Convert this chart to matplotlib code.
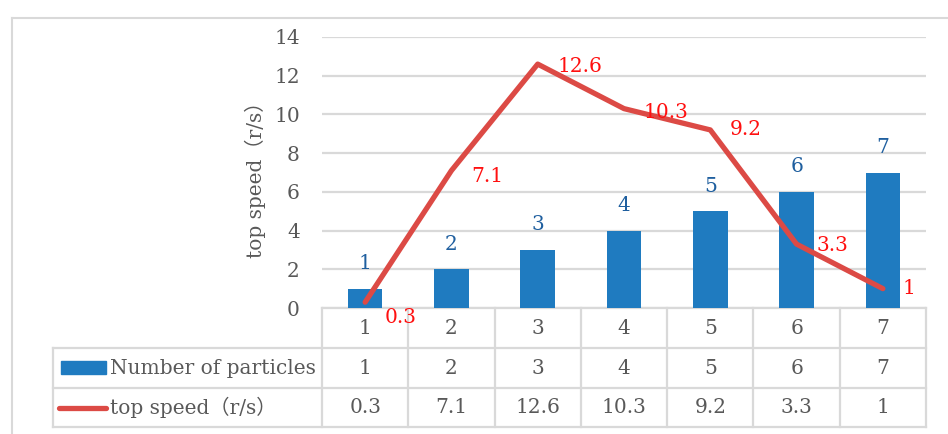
import matplotlib
matplotlib.use("Agg")
import matplotlib.pyplot as plt
from matplotlib.transforms import blended_transform_factory
from matplotlib.patches import Rectangle
from matplotlib.lines import Line2D

# --- data ---
categories = ["1", "2", "3", "4", "5", "6", "7"]
particles = [1, 2, 3, 4, 5, 6, 7]
top_speed = [0.3, 7.1, 12.6, 10.3, 9.2, 3.3, 1]
series_names = ["Number of particles", "top speed\uff08r/s\uff09"]
y_ticks = [0, 2, 4, 6, 8, 10, 12, 14]

# --- styles ---
BAR_COLOR = "#1f7bc0"
LINE_COLOR = "#dc4a45"
RED_TEXT = "#ff1010"
BLUE_TEXT = "#1f5f9f"
GRAY_TEXT = "#595959"
GRID = "#d9d9d9"
FONT = ["DejaVu Serif", "Noto Sans CJK SC", "DejaVu Sans"]
FS = 14.5
plt.rcParams["font.family"] = FONT

W, H = 948, 434
fig = plt.figure(figsize=(W / 100, H / 100), dpi=100)
fig.patch.set_facecolor("white")

# pixel-space overlay for the frame and data table
ov = fig.add_axes([0, 0, 1, 1], zorder=0)
ov.set_xlim(0, W)
ov.set_ylim(H, 0)
ov.axis("off")

# plot area
px_l, px_r, px_t, px_b = 322, 926, 37, 308
ax = fig.add_axes([px_l / W, (H - px_b) / H, (px_r - px_l) / W, (px_b - px_t) / H], zorder=2)
ax.patch.set_alpha(0)
x = list(range(len(categories)))
ax.set_xlim(-0.5, len(categories) - 0.5)
ax.set_ylim(0, 14)
ax.set_yticks(y_ticks)
ax.set_yticklabels([str(t) for t in y_ticks])
ax.tick_params(axis="y", length=0, pad=16, labelsize=FS, labelcolor=GRAY_TEXT)
ax.set_xticks([])
for s in ax.spines.values():
    s.set_visible(False)
ax.grid(axis="y", color=GRID, linewidth=1.6)
ax.set_axisbelow(True)
ax.set_ylabel(series_names[1], fontsize=FS, color=GRAY_TEXT)
ax.yaxis.set_label_coords((266 - px_l) / (px_r - px_l), (px_b - 175) / (px_b - px_t))

bars = ax.bar(x, particles, width=0.4, color=BAR_COLOR, zorder=2)
ax.plot(x, top_speed, color=LINE_COLOR, linewidth=3.8, solid_capstyle="round",
        solid_joinstyle="round", zorder=3)

for xi, v in zip(x, particles):
    ax.annotate(str(v), (xi, v), xytext=(0, 18), textcoords="offset points",
                ha="center", va="center", fontsize=FS, color=BLUE_TEXT, zorder=4)

speed_label_offsets = [(14, -11), (14, -4), (14, -2), (14, -3), (14, 0), (14, -1), (14, 0)]
for xi, v, off in zip(x, top_speed, speed_label_offsets):
    ax.annotate(f"{v:g}", (xi, v), xytext=off, textcoords="offset points",
                ha="left", va="center", fontsize=FS, color=RED_TEXT, zorder=4)

# outer chart frame
ov.plot([12, W + 5], [18, 18], color=GRID, lw=1.5)
ov.plot([12, 12], [18, H + 5], color=GRID, lw=1.5)

# data table under the plot
tr = blended_transform_factory(ax.transData, ov.transData)
row_y = [308, 348, 388, 427]
head_l = 53
ncol = len(categories)
tbl_lw = 1.6
# horizontal rules
ov.plot([px_l, px_r], [row_y[0], row_y[0]], color=GRID, lw=tbl_lw, zorder=1)
for yy in row_y[1:]:
    ov.plot([head_l, px_r], [yy, yy], color=GRID, lw=tbl_lw, zorder=1)
# vertical rules
ov.plot([head_l, head_l], [row_y[1], row_y[3]], color=GRID, lw=tbl_lw, zorder=1)
for i in range(ncol + 1):
    ov.plot([i - 0.5, i - 0.5], [row_y[0], row_y[3]], color=GRID, lw=tbl_lw,
            transform=tr, zorder=1)

rows = [categories, [f"{v:g}" for v in particles], [f"{v:g}" for v in top_speed]]
for r, vals in enumerate(rows):
    yc = (row_y[r] + row_y[r + 1]) / 2
    for xi, t in zip(x, vals):
        ov.text(xi, yc, t, transform=tr, ha="center", va="center",
                fontsize=FS, color=GRAY_TEXT)

# legend keys in the table header column
yc1 = (row_y[1] + row_y[2]) / 2
ov.add_patch(Rectangle((61, yc1 - 7), 45, 13, color=BAR_COLOR))
ov.text(110, yc1, series_names[0], ha="left", va="center", fontsize=FS, color=GRAY_TEXT)
yc2 = (row_y[2] + row_y[3]) / 2
ov.add_line(Line2D([59, 106], [yc2, yc2], color=LINE_COLOR, lw=3.8, solid_capstyle="round"))
ov.text(110, yc2, series_names[1], ha="left", va="center", fontsize=FS, color=GRAY_TEXT)

fig.savefig("out.png", dpi=100)
